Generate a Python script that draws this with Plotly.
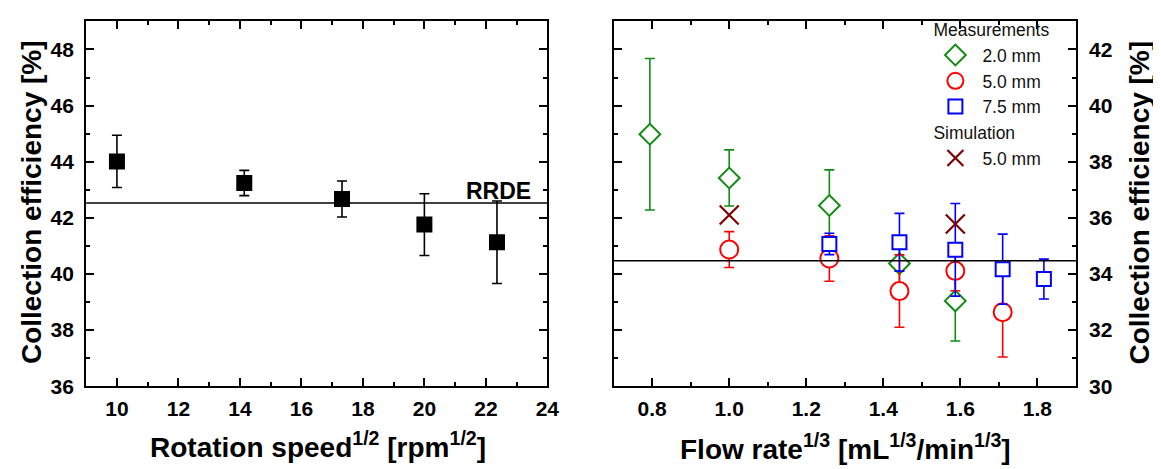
import plotly.graph_objects as go

# ---------------- data ----------------
# Left panel: RRDE rotation speed
rot_x = [10.0, 14.142, 17.321, 20.0, 22.361]
rot_y = [44.01, 43.24, 42.67, 41.76, 41.13]
rot_err = [0.93, 0.45, 0.64, 1.10, 1.47]
rrde_level = 42.53

# Right panel: flow rate^(1/3)
d20_x = [0.794, 1.0, 1.260, 1.442, 1.587]
d20_y = [38.98, 37.42, 36.44, 34.37, 33.04]
d20_err = [2.70, 1.00, 1.27, 0.78, 1.43]

d50_x = [1.0, 1.260, 1.442, 1.587, 1.710]
d50_y = [34.87, 34.55, 33.39, 34.11, 32.64]
d50_err = [0.64, 0.81, 1.29, 0.71, 1.60]

d75_x = [1.260, 1.442, 1.587, 1.710, 1.817]
d75_y = [35.07, 35.13, 34.86, 34.17, 33.82]
d75_err = [0.38, 1.03, 1.65, 1.25, 0.71]

sim_x = [1.0, 1.587]
sim_y = [36.10, 35.78]

right_level = 34.47

FONT = "Liberation Sans, Arial, sans-serif"
W, H = 1161, 469

GREEN = "#128c12"
RED = "#ff0000"
BLUE = "#0000ff"
MAROON = "#800000"
LEGFS = 17.5
GRPFS = 17.5

fig = go.Figure()

# left panel
fig.add_trace(go.Scatter(
    x=rot_x, y=rot_y, mode="markers", xaxis="x", yaxis="y", showlegend=False,
    marker=dict(symbol="square", size=16, color="black", line=dict(width=0)),
    error_y=dict(type="data", array=rot_err, color="black", thickness=1.6, width=5),
))

def meas(x, y, e, sym, size, col, name):
    return go.Scatter(
        x=x, y=y, mode="markers", xaxis="x2", yaxis="y2", name=name,
        legendgroup="meas", legendgrouptitle=dict(text="Measurements", font=dict(size=GRPFS, family=FONT, color="#111")),
        marker=dict(symbol=sym, size=size, color="white", line=dict(width=2, color=col)),
        error_y=dict(type="data", array=e, color=col, thickness=1.6, width=5),
    )

fig.add_trace(meas(d20_x, d20_y, d20_err, "diamond", 16, GREEN, "2.0 mm"))
fig.add_trace(meas(d50_x, d50_y, d50_err, "circle", 18, RED, "5.0 mm"))
fig.add_trace(meas(d75_x, d75_y, d75_err, "square", 14, BLUE, "7.5 mm"))
fig.add_trace(go.Scatter(
    x=sim_x, y=sim_y, mode="markers", xaxis="x2", yaxis="y2", name="5.0 mm",
    legendgroup="sim", legendgrouptitle=dict(text="Simulation", font=dict(size=GRPFS, family=FONT, color="#111")),
    marker=dict(symbol="x-thin-open", size=19, color=MAROON, line=dict(width=2.2, color=MAROON)),
))

# reference lines
fig.add_shape(type="line", xref="x domain", yref="y", x0=0, x1=1, y0=rrde_level, y1=rrde_level,
              line=dict(color="black", width=1.6), layer="above")
fig.add_shape(type="line", xref="x2 domain", yref="y2", x0=0, x1=1, y0=right_level, y1=right_level,
              line=dict(color="black", width=1.6), layer="above")

def px(xp):
    return xp / W

def py(yp):
    return 1 - yp / H

tickfont = dict(family=FONT, size=21, color="black", weight="bold")
common = dict(showline=True, linecolor="black", linewidth=2, mirror="ticks", ticks="inside",
              ticklen=8, tickwidth=2, tickcolor="black", showgrid=False, zeroline=False,
              tickfont=tickfont)

fig.update_layout(
    width=W, height=H, margin=dict(l=0, r=0, t=0, b=0),
    paper_bgcolor="white", plot_bgcolor="white",
    font=dict(family=FONT, color="black"),
    xaxis=dict(domain=[px(79), px(545)], range=[9, 24], dtick=2, tick0=0, anchor="y",
               minor=dict(dtick=1, ticks="inside", ticklen=4, tickwidth=2, tickcolor="black"),
               ticklabelstandoff=3, **common),
    yaxis=dict(domain=[py(387.3), py(13.7)], range=[36, 49], dtick=2, tick0=0, anchor="x",
               minor=dict(dtick=1, ticks="inside", ticklen=4, tickwidth=2, tickcolor="black"),
               ticklabelstandoff=6, **common),
    xaxis2=dict(domain=[px(612), px(1079)], range=[0.7, 1.9], dtick=0.2, tick0=0, anchor="y2",
                tickformat=".1f",
                minor=dict(dtick=0.1, ticks="inside", ticklen=4, tickwidth=2, tickcolor="black"),
                ticklabelstandoff=3, **common),
    yaxis2=dict(domain=[py(387.3), py(13.7)], range=[30, 43], dtick=2, tick0=0, anchor="x2", side="right",
                minor=dict(dtick=1, ticks="inside", ticklen=4, tickwidth=2, tickcolor="black"),
                ticklabelstandoff=7, **common),
    legend=dict(x=px(930), y=py(3.5), xanchor="left", yanchor="top", bgcolor="rgba(0,0,0,0)",
                borderwidth=0, tracegroupgap=0, itemwidth=44,
                font=dict(family=FONT, size=LEGFS, color="#111")),
    showlegend=True,
)

titlefont = dict(family=FONT, size=28, color="black", weight="bold")
fig.add_annotation(text="Collection efficiency [%]", x=px(24), y=py(199), xref="paper", yref="paper",
                   textangle=-90, showarrow=False, font=titlefont, xanchor="center", yanchor="middle")
fig.add_annotation(text="Collection efficiency [%]", x=px(1143), y=py(199), xref="paper", yref="paper",
                   textangle=-90, showarrow=False, font=titlefont, xanchor="center", yanchor="middle")
fig.add_annotation(text="Rotation speed<sup>1/2</sup> [rpm<sup>1/2</sup>]", x=px(313), y=py(448),
                   xref="paper", yref="paper", showarrow=False, font=titlefont,
                   xanchor="center", yanchor="middle")
fig.add_annotation(text="Flow rate<sup>1/3</sup> [mL<sup>1/3</sup>/min<sup>1/3</sup>]", x=px(846), y=py(450),
                   xref="paper", yref="paper", showarrow=False, font=titlefont,
                   xanchor="center", yanchor="middle")
fig.add_annotation(text="RRDE", x=22.40, y=42.96, xref="x", yref="y", showarrow=False,
                   font=dict(family=FONT, size=23, color="black", weight="bold"),
                   xanchor="center", yanchor="middle")

fig.write_html("out.html")
